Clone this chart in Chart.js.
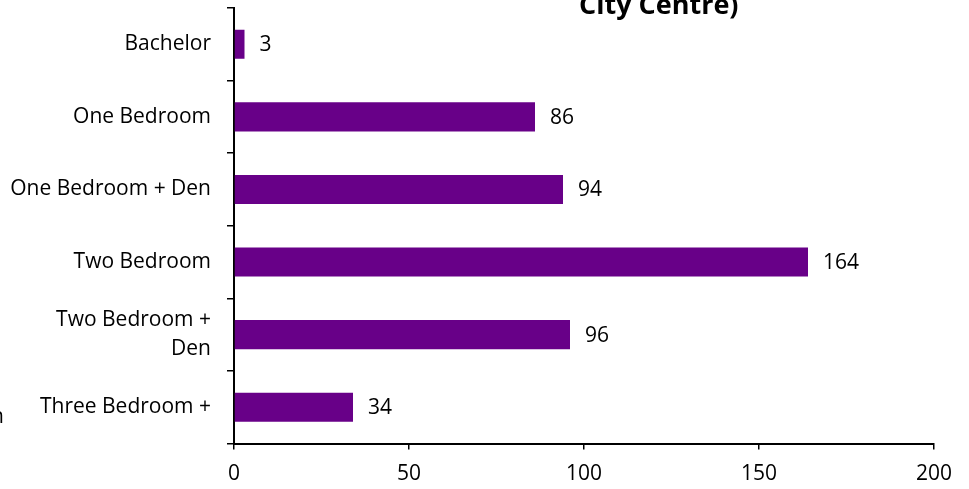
<!DOCTYPE html>
<html>
<head>
<meta charset="utf-8">
<script src="https://cdn.jsdelivr.net/npm/chart.js@4.4.1/dist/chart.umd.min.js"></script>
<style>
  html, body { margin: 0; padding: 0; background: #fff; }
  #wrap { position: relative; width: 969px; height: 489px; }
</style>
</head>
<body>
<div id="wrap"><canvas id="chart"></canvas></div>
<script>
// Unit types, top to bottom as they appear on the chart
const unitTypes = [
  "Bachelor",
  "One Bedroom",
  "One Bedroom + Den",
  "Two Bedroom",
  ["Two Bedroom +", "Den"],
  "Three Bedroom +",
];
const unitCounts = [3, 86, 94, 164, 96, 34];
const xTicks = [0, 50, 100, 150, 200];

const titleText = "City Centre)";
const strayText = "n";

const FONT = "'Open Sans', 'Noto Sans', sans-serif";
const BAR_COLOR = "#680088";

// value labels to the right of each bar
const valueLabels = {
  id: "valueLabels",
  afterDatasetsDraw(chart) {
    const ctx = chart.ctx;
    const meta = chart.getDatasetMeta(0);
    ctx.save();
    ctx.font = `21px ${FONT}`;
    ctx.fillStyle = "#000";
    ctx.textAlign = "left";
    ctx.textBaseline = "middle";
    meta.data.forEach((bar, i) => {
      ctx.fillText(String(unitCounts[i]), bar.x + 15, bar.y + 1);
    });
    ctx.restore();
  },
};

// clipped title at the top and the cut-off letter at the left edge
const extraText = {
  id: "extraText",
  afterDraw(chart) {
    const ctx = chart.ctx;
    ctx.save();
    ctx.fillStyle = "#000";
    ctx.font = `bold 27px ${FONT}`;
    ctx.textAlign = "left";
    ctx.textBaseline = "alphabetic";
    ctx.fillText(titleText, 579, 14);
    ctx.font = `21px ${FONT}`;
    ctx.textAlign = "right";
    ctx.fillText(strayText, 4, 423);
    ctx.restore();
  },
};

new Chart(document.getElementById("chart"), {
  type: "bar",
  data: {
    labels: unitTypes,
    datasets: [
      {
        data: unitCounts,
        backgroundColor: BAR_COLOR,
        borderWidth: 0,
        barPercentage: 0.4,
        categoryPercentage: 1,
      },
    ],
  },
  options: {
    indexAxis: "y",
    responsive: true,
    maintainAspectRatio: false,
    animation: false,
    layout: { padding: { top: 8, right: 35, left: 0, bottom: 0 } },
    plugins: {
      legend: { display: false },
      tooltip: { enabled: false },
      title: { display: false },
    },
    scales: {
      y: {
        offset: true,
        grid: {
          offset: true,
          drawOnChartArea: false,
          drawTicks: true,
          tickLength: 7,
          color: "#000",
          lineWidth: 1.5,
        },
        border: { display: true, color: "#000", width: 2 },
        ticks: {
          color: "#000",
          font: { family: FONT, size: 21, lineHeight: 1.38 },
          padding: 16,
        },
        afterFit(scale) {
          scale.width = 234;
          scale.paddingTop = 0;
          scale.paddingBottom = 0;
        },
      },
      x: {
        min: 0,
        max: 200,
        afterBuildTicks(scale) {
          scale.ticks = xTicks.map((v) => ({ value: v }));
        },
        grid: {
          drawOnChartArea: false,
          drawTicks: true,
          tickLength: 6,
          color: "#000",
          lineWidth: 1.5,
        },
        border: { display: true, color: "#000", width: 2 },
        ticks: {
          color: "#000",
          font: { family: FONT, size: 21 },
          padding: 12,
          maxRotation: 0,
        },
        afterFit(scale) {
          scale.height = 489 - 443.5;
        },
      },
    },
  },
  plugins: [valueLabels, extraText],
});
</script>
</body>
</html>
